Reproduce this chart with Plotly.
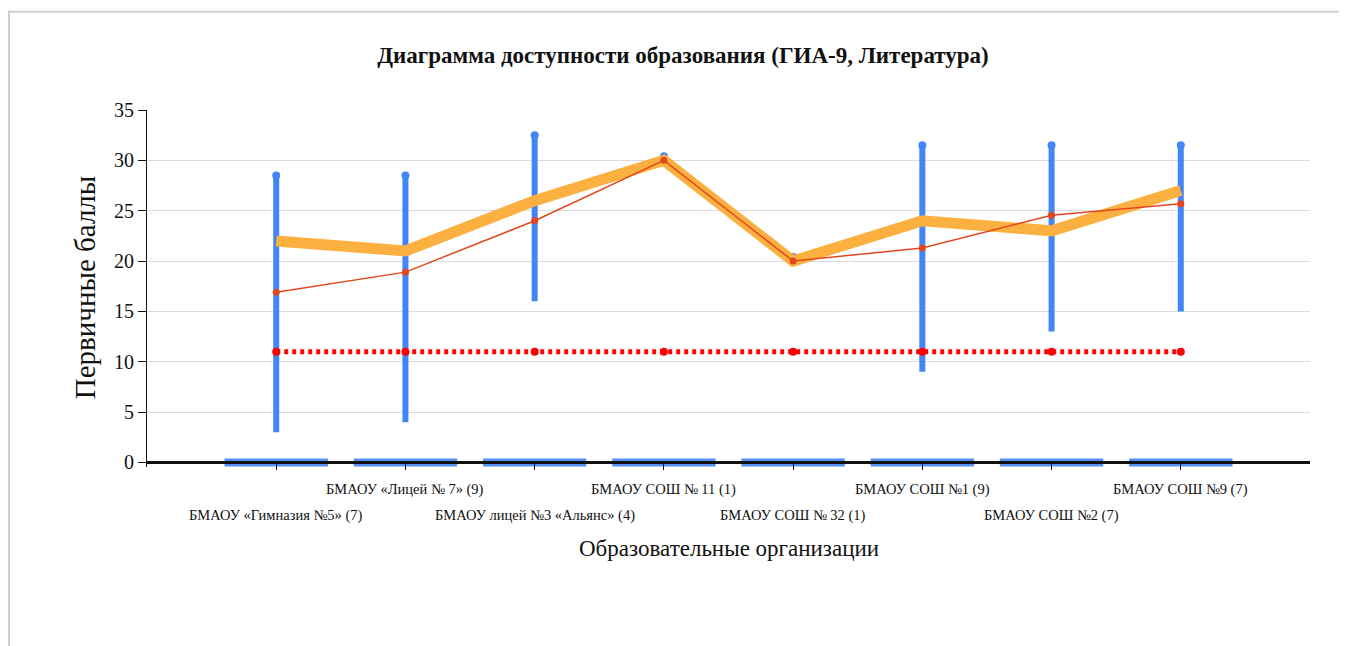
import plotly.graph_objects as go

schools = [
    "БМАОУ «Гимназия №5» (7)",
    "БМАОУ «Лицей № 7» (9)",
    "БМАОУ лицей №3 «Альянс» (4)",
    "БМАОУ СОШ № 11 (1)",
    "БМАОУ СОШ № 32 (1)",
    "БМАОУ СОШ №1 (9)",
    "БМАОУ СОШ №2 (7)",
    "БМАОУ СОШ №9 (7)",
]
min_scores = [3, 4, 16, 30.4, 20.4, 9, 13, 15]
max_scores = [28.5, 28.5, 32.5, 30.4, 20.4, 31.5, 31.5, 31.5]
median_scores = [22, 21, 26, 30, 20, 24, 23, 27]
mean_scores = [16.9, 18.9, 24.0, 30.0, 20.0, 21.3, 24.55, 25.7]
threshold = [11, 11, 11, 11, 11, 11, 11, 11]
y_ticks = [0, 5, 10, 15, 20, 25, 30, 35]

BLUE = "#4285F4"
ORANGE = "#FBB040"
RED_LINE = "#E4471D"
RED_DOT = "#FF0000"
SERIF = "Liberation Serif, Times New Roman, serif"

# figure geometry (page has an 8px body margin)
W, H = 1339, 638
L, R, T = 139, 37, 102
Y_MIN, Y_MAX = -0.45, 35
PLOT_H = 352 * (Y_MAX - Y_MIN) / 35
B = H - T - PLOT_H
PLOT_W = W - L - R
BOTTOM = T + PLOT_H


def py(pix):  # figure pixel y -> paper y
    return (BOTTOM - pix) / PLOT_H


def px(pix):  # figure pixel x -> paper x
    return (pix - L) / PLOT_W


idx = list(range(len(schools)))
half = 0.4

bx, by = [], []
for i in idx:
    bx += [i - half, i + half, None]
    by += [0, 0, None]

vx, vy = [], []
for i in idx:
    vx += [i, i, None]
    vy += [min_scores[i], max_scores[i], None]

fig = go.Figure()
fig.add_trace(go.Scatter(x=bx, y=by, mode="lines", line=dict(color=BLUE, width=8),
                         opacity=0.9, hoverinfo="skip", showlegend=False))
fig.add_trace(go.Scatter(x=vx, y=vy, mode="lines", line=dict(color=BLUE, width=6),
                         showlegend=False))
fig.add_trace(go.Scatter(x=idx, y=max_scores, mode="markers",
                         marker=dict(color=BLUE, size=8), cliponaxis=False, showlegend=False))
fig.add_trace(go.Scatter(x=idx, y=median_scores, mode="lines",
                         line=dict(color=ORANGE, width=11), showlegend=False))
fig.add_trace(go.Scatter(x=idx, y=mean_scores, mode="lines+markers",
                         line=dict(color=RED_LINE, width=1.5),
                         marker=dict(color=RED_LINE, size=7), showlegend=False))
fig.add_trace(go.Scatter(x=idx, y=threshold, mode="lines+markers",
                         line=dict(color=RED_DOT, width=5, dash="4px,4px"),
                         marker=dict(color=RED_DOT, size=8), showlegend=False))

annotations = []
for i, s in enumerate(schools):
    annotations.append(dict(x=i, xref="x", y=py(481) if i % 2 else py(507), yref="paper",
                            text=s, showarrow=False, xanchor="center", yanchor="middle",
                            font=dict(family=SERIF, size=14.5, color="#111")))
annotations.append(dict(x=px(721), xref="paper", y=py(540), yref="paper",
                        text="Образовательные организации", showarrow=False,
                        xanchor="center", yanchor="middle",
                        font=dict(family=SERIF, size=23, color="#111")))
annotations.append(dict(x=px(77), xref="paper", y=py(279), yref="paper",
                        text="Первичные баллы", showarrow=False, textangle=-90,
                        xanchor="center", yanchor="middle",
                        font=dict(family=SERIF, size=29, color="#111")))

shapes = [
    dict(type="line", xref="paper", yref="paper", x0=px(0), x1=px(W),
         y0=py(4), y1=py(4), line=dict(color="#d0d0d0", width=2)),
    dict(type="line", xref="paper", yref="paper", x0=px(1), x1=px(1),
         y0=py(4), y1=py(H), line=dict(color="#d0d0d0", width=2)),
]

fig.update_layout(
    width=W, height=H,
    margin=dict(l=L, r=R, t=T, b=B, pad=0),
    paper_bgcolor="white", plot_bgcolor="white",
    title=dict(text="<b>Диаграмма доступности образования (ГИА-9, Литература)</b>",
               x=(683 - 8) / W, xref="container", xanchor="center",
               y=1 - (55 - 8) / H, yref="container", yanchor="middle",
               font=dict(family=SERIF, size=23, color="#111")),
    xaxis=dict(range=[-1, 8], tickvals=idx, ticktext=[""] * len(idx),
               anchor="free", position=-Y_MIN / (Y_MAX - Y_MIN),
               showgrid=False, zeroline=False, showline=True, linecolor="#111", linewidth=2.5,
               ticks="outside", ticklen=6, tickcolor="#111"),
    yaxis=dict(range=[Y_MIN, Y_MAX], tickvals=y_ticks,
               showgrid=True, gridcolor="#dcdcdc", gridwidth=1, zeroline=False,
               showline=True, linecolor="#111", linewidth=1,
               ticks="outside", ticklen=8, tickcolor="#111",
               tickfont=dict(family=SERIF, size=20, color="#111")),
    annotations=annotations,
    shapes=shapes,
)

fig.write_html("out.html")
